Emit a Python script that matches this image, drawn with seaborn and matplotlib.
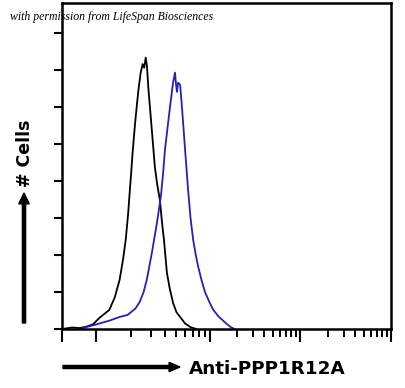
import numpy as np
import pandas as pd
import matplotlib
matplotlib.use("Agg")
import matplotlib.pyplot as plt
import seaborn as sns
from matplotlib.ticker import FixedLocator, NullFormatter

# ---- data (fluorescence intensity vs. cell count) ----
control_x = [1.0, 2.0, 3.2, 5.0, 8.0, 10.6, 13.0, 14.5, 16.0, 17.2, 18.1, 19.0, 19.6, 20.2, 20.8, 21.8,
             22.6, 23.5, 24.5, 25.5, 26.3, 27.1, 27.8, 28.6, 29.5, 31.0, 32.6, 34.2, 36.1, 37.6,
             39.2, 41.6, 44.0, 47.1, 50.5, 54.3, 60.0, 66.5, 75.2]
control_y = [0.0, 0.8, 0.5, 1.2, 2.5, 5.9, 10.3, 17.0, 26.5, 38.0, 48.1, 62.0, 73.5, 84.0, 95.1, 110.0,
             120.0, 130.0, 138.4, 143.0, 141.0, 146.5, 142.0, 130.0, 120.0, 104.0, 87.6, 78.0, 69.7, 58.0,
             48.1, 30.3, 22.0, 14.1, 9.0, 6.5, 3.0, 1.1, 0.0]

sample_x = [3.2, 5.0, 8.8, 13.0, 16.0, 18.8, 22.0, 24.0, 26.0, 27.7, 30.7, 34.0, 36.8, 38.5, 40.0, 42.0,
            44.3, 47.1, 49.0, 50.0, 51.0, 52.1, 54.3, 56.0, 57.7, 60.5, 63.8, 67.0, 70.7, 74.5, 78.3,
            84.0, 90.3, 99.0, 108.0, 122.0, 136.0, 150.0, 168.0, 186.0]
sample_y = [0.0, 1.0, 2.2, 4.5, 6.5, 7.6, 11.0, 14.6, 20.0, 26.5, 41.1, 57.3, 71.4, 84.0, 96.8, 108.0,
            120.0, 133.0, 138.4, 131.9, 128.0, 133.0, 131.9, 122.0, 111.4, 94.0, 75.1, 60.0, 48.1, 40.0, 33.5,
            26.0, 19.5, 14.0, 10.3, 7.0, 4.9, 3.0, 1.1, 0.0]

x_major = [1, 10, 100, 1000, 10000]
y_ticks = [0, 20, 40, 60, 80, 100, 120, 140, 160]
x_label = "Anti-PPP1R12A"
y_label = "# Cells"
credit = "with permission from LifeSpan Biosciences"

# ---- scale: compressed first decade as in the cytometer display ----
DEC = [0, 1, 2, 3, 4]
POS = [0, 34, 147, 236, 326]

def fwd(x):
    x = np.clip(np.asarray(x, dtype=float), 1e-3, None)
    return np.interp(np.log10(x), DEC, POS, left=-100, right=430)

def inv(p):
    return 10 ** np.interp(np.asarray(p, dtype=float), POS, DEC)

sns.set_style("white")
plt.rcParams["font.family"] = ["DejaVu Sans"]
plt.rcParams["text.color"] = "black"

fig = plt.figure(figsize=(4.05, 3.88), dpi=100)
ax = fig.add_axes([62 / 405, 1 - 329 / 388, (391 - 62) / 405, (329 - 3) / 388])

ctrl = pd.DataFrame({"x": control_x, "y": control_y})
samp = pd.DataFrame({"x": sample_x, "y": sample_y})
sns.lineplot(data=ctrl, x="x", y="y", color="black", linewidth=1.3, ax=ax, sort=False)
sns.lineplot(data=samp, x="x", y="y", color="#2222bb", linewidth=1.3, ax=ax, sort=False)

ax.set_xscale("function", functions=(fwd, inv))
ax.set_xlim(1, 10000)
ax.set_ylim(0, 176)

minors = [k * 10 ** d for d in (1, 2, 3) for k in range(2, 10)]
ax.xaxis.set_major_locator(FixedLocator(x_major))
ax.xaxis.set_minor_locator(FixedLocator(minors))
ax.xaxis.set_major_formatter(NullFormatter())
ax.xaxis.set_minor_formatter(NullFormatter())
ax.set_yticks(y_ticks)
ax.yaxis.set_major_formatter(NullFormatter())
ax.tick_params(axis="x", which="major", direction="out", length=9, width=1.5, colors="black", bottom=True)
ax.tick_params(axis="x", which="minor", direction="out", length=6, width=1.4, colors="black", bottom=True)
ax.tick_params(axis="y", which="major", direction="out", length=6, width=1.5, colors="black", left=True)
ax.set_xlabel("")
ax.set_ylabel("")
for s in ax.spines.values():
    s.set_color("black")
    s.set_linewidth(1.8)

# axis labels with arrows
fig.text(189 / 405, 1 - 374 / 388, x_label, fontsize=13.2, fontweight="bold", ha="left",
         va="baseline", color="black")
fig.text(25.5 / 405, 1 - 153 / 388, y_label, fontsize=12.5, fontweight="bold", rotation=90,
         ha="center", va="center", color="black")
fig.patches.append(matplotlib.patches.FancyArrow(
    63 / 405, 1 - 367 / 388, (180 - 63) / 405, 0, width=0.008, head_width=0.024,
    head_length=0.027, length_includes_head=True, color="black", transform=fig.transFigure))
fig.patches.append(matplotlib.patches.FancyArrow(
    24 / 405, 1 - 323 / 388, 0, (323 - 193) / 388, width=0.008, head_width=0.026,
    head_length=0.028, length_includes_head=True, color="black", transform=fig.transFigure))

fig.text(10 / 405, 1 - 17 / 388, credit, fontsize=8.5, style="italic",
         family=["Liberation Serif"], ha="left", va="center", zorder=10, color="black")

fig.savefig("out.png", dpi=100)
